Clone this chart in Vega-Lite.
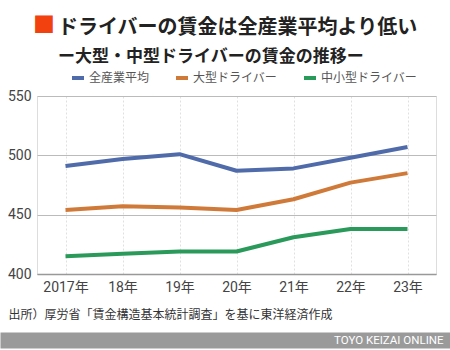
{
  "$schema": "https://vega.github.io/schema/vega-lite/v6.json",
  "width": 399,
  "height": 178,
  "autosize": "none",
  "padding": {"left": 37, "top": 96, "right": 14, "bottom": 76},
  "background": "white",
  "title": {
    "text": "ドライバーの賃金は全産業平均より低い",
    "subtitle": "ー大型・中型ドライバーの賃金の推移ー",
    "anchor": "start",
    "frame": "group",
    "dx": 21,
    "offset": -51,
    "font": "Noto Sans CJK JP",
    "fontSize": 20,
    "fontWeight": "bold",
    "color": "#222222",
    "subtitleFont": "Noto Sans CJK JP",
    "subtitleFontSize": 17,
    "subtitleFontWeight": "bold",
    "subtitleColor": "#222222",
    "subtitlePadding": 11
  },
  "data": {
    "values": [
      {"year": "2017年", "series": "全産業平均", "value": 491},
      {"year": "18年", "series": "全産業平均", "value": 497},
      {"year": "19年", "series": "全産業平均", "value": 501},
      {"year": "20年", "series": "全産業平均", "value": 487},
      {"year": "21年", "series": "全産業平均", "value": 489},
      {"year": "22年", "series": "全産業平均", "value": 498},
      {"year": "23年", "series": "全産業平均", "value": 507},
      {"year": "2017年", "series": "大型ドライバー", "value": 454},
      {"year": "18年", "series": "大型ドライバー", "value": 457},
      {"year": "19年", "series": "大型ドライバー", "value": 456},
      {"year": "20年", "series": "大型ドライバー", "value": 454},
      {"year": "21年", "series": "大型ドライバー", "value": 463},
      {"year": "22年", "series": "大型ドライバー", "value": 477},
      {"year": "23年", "series": "大型ドライバー", "value": 485},
      {"year": "2017年", "series": "中小型ドライバー", "value": 415},
      {"year": "18年", "series": "中小型ドライバー", "value": 417},
      {"year": "19年", "series": "中小型ドライバー", "value": 419},
      {"year": "20年", "series": "中小型ドライバー", "value": 419},
      {"year": "21年", "series": "中小型ドライバー", "value": 431},
      {"year": "22年", "series": "中小型ドライバー", "value": 438},
      {"year": "23年", "series": "中小型ドライバー", "value": 438}
    ]
  },
  "layer": [
    {
      "mark": {"type": "line", "strokeWidth": 4, "strokeJoin": "round"},
      "encoding": {
        "x": {
          "field": "year",
          "type": "ordinal",
          "sort": ["2017年", "18年", "19年", "20年", "21年", "22年", "23年"],
          "scale": {"type": "point", "padding": 0.5},
          "axis": {
            "orient": "bottom",
            "title": "出所）厚労省「賃金構造基本統計調査」を基に東洋経済作成",
            "titleX": -29,
            "titleY": 40,
            "titleAlign": "left",
            "titleBaseline": "middle",
            "titleFont": "Noto Sans CJK JP",
            "titleFontSize": 12,
            "titleFontWeight": "normal",
            "titleColor": "#333333",
            "labelFont": "Roboto, Noto Sans CJK JP",
            "labelFontSize": 14,
            "labelColor": "#444444",
            "labelPadding": 6,
            "labelAngle": 0,
            "ticks": false,
            "domainColor": "#999999",
            "domainWidth": 1.5,
            "grid": true,
            "gridColor": "#e0e0e0",
            "gridDash": [2, 2]
          }
        },
        "y": {
          "field": "value",
          "type": "quantitative",
          "scale": {"domain": [400, 550], "nice": false, "zero": false},
          "axis": {
            "values": [400, 450, 500, 550],
            "title": "■",
            "titleAngle": 0,
            "titleX": 6.5,
            "titleY": -71.5,
            "titleAlign": "center",
            "titleBaseline": "middle",
            "titleColor": "#F2400F",
            "titleFont": "Noto Sans CJK JP",
            "titleFontSize": 22,
            "titleFontWeight": "normal",
            "labelFont": "Roboto",
            "labelFontSize": 14,
            "labelColor": "#444444",
            "labelPadding": 6,
            "ticks": false,
            "domain": false,
            "gridColor": "#bbbbbb"
          }
        },
        "color": {
          "field": "series",
          "type": "nominal",
          "sort": ["全産業平均", "大型ドライバー", "中小型ドライバー"],
          "scale": {
            "domain": ["全産業平均", "大型ドライバー", "中小型ドライバー"],
            "range": ["#4F6BAA", "#D07A3A", "#2A9A5A"]
          },
          "legend": {
            "orient": "none",
            "legendX": 33,
            "legendY": -26,
            "direction": "horizontal",
            "title": null,
            "symbolType": "stroke",
            "symbolSize": 144,
            "symbolStrokeWidth": 4,
            "labelFont": "Noto Sans CJK JP",
            "labelFontSize": 12,
            "labelColor": "#555555",
            "labelOffset": 3,
            "columnPadding": 18,
            "padding": 0
          }
        }
      }
    },
    {
      "mark": {"type": "line", "strokeOpacity": 0},
      "encoding": {
        "x": {
          "field": "year",
          "type": "ordinal",
          "sort": ["2017年", "18年", "19年", "20年", "21年", "22年", "23年"],
          "scale": {"type": "point", "padding": 0.5},
          "axis": {
            "orient": "bottom",
            "offset": 58,
            "values": ["20年"],
            "labels": false,
            "domain": false,
            "grid": false,
            "ticks": true,
            "tickSize": 16,
            "tickWidth": 474,
            "tickColor": "#9a9a9a",
            "title": "TOYO KEIZAI ONLINE",
            "titleX": 406,
            "titleY": 8,
            "titleAlign": "right",
            "titleBaseline": "middle",
            "titleFont": "Roboto",
            "titleFontSize": 11.5,
            "titleFontWeight": "normal",
            "titleColor": "#ffffff"
          }
        }
      }
    }
  ],
  "resolve": {"axis": {"x": "independent"}}
}
